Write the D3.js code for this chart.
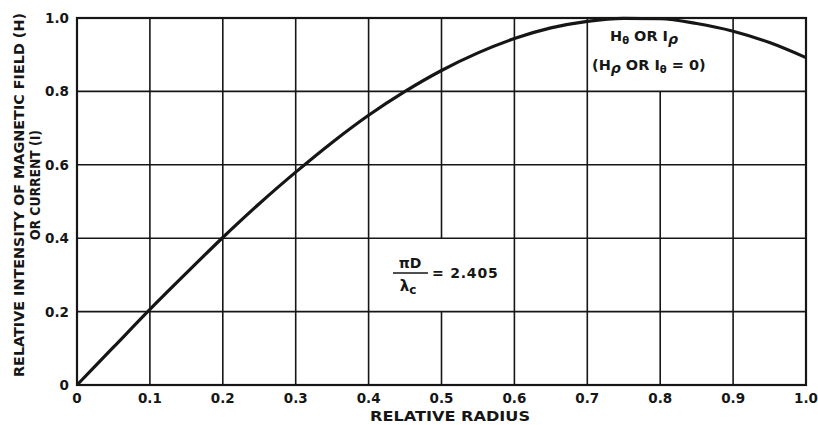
<!DOCTYPE html>
<html><head><meta charset="utf-8">
<script src="https://cdn.jsdelivr.net/npm/d3@7"></script>
<style>
html,body{margin:0;padding:0;background:#fff;}
svg{display:block;}
text{font-family:"DejaVu Sans",Verdana,sans-serif;font-weight:bold;fill:#161616;}
</style></head>
<body>
<svg id="c" width="818" height="425"></svg>
<script>
// Data
const radius = [0, 0.05, 0.1, 0.15, 0.2, 0.25, 0.3, 0.35, 0.4, 0.45, 0.5, 0.55, 0.6, 0.65, 0.7, 0.75, 0.8, 0.85, 0.9, 0.95, 1.0];
const intensity = [0, 0.103, 0.206, 0.305, 0.402, 0.494, 0.58, 0.661, 0.735, 0.8, 0.857, 0.905, 0.944, 0.973, 0.991, 0.999, 0.998, 0.985, 0.964, 0.933, 0.892];
const xTicks = [0, 0.1, 0.2, 0.3, 0.4, 0.5, 0.6, 0.7, 0.8, 0.9, 1.0];
const xTickLabels = ["0", "0.1", "0.2", "0.3", "0.4", "0.5", "0.6", "0.7", "0.8", "0.9", "1.0"];
const yTicks = [0, 0.2, 0.4, 0.6, 0.8, 1.0];
const yTickLabels = ["0", "0.2", "0.4", "0.6", "0.8", "1.0"];
// grid segments left out where annotations sit: [x, yFrom, yTo]
const gridGaps = [[0.8, 0.8, 1.0], [0.5, 0.2, 0.4]];
const xTitle = "RELATIVE RADIUS";
const yTitle1 = "RELATIVE INTENSITY OF MAGNETIC FIELD (H)";
const yTitle2 = "OR CURRENT (I)";

const svg = d3.select("#c");
const x = d3.scaleLinear().domain([0, 1]).range([77, 806]);
const y = d3.scaleLinear().domain([0, 1]).range([385, 18]);
const ink = "#161616";

// horizontal grid
svg.append("g").selectAll("line").data(yTicks).join("line")
  .attr("x1", x(0)).attr("x2", x(1))
  .attr("y1", d => y(d)).attr("y2", d => y(d))
  .attr("stroke", ink).attr("stroke-width", 1.6);

// vertical grid with gaps
const vSegs = [];
xTicks.forEach(t => {
  const g = gridGaps.filter(gp => Math.abs(gp[0] - t) < 1e-9);
  if (g.length) {
    g.forEach(gp => {
      if (gp[1] > 0) vSegs.push([t, 0, gp[1]]);
      if (gp[2] < 1) vSegs.push([t, gp[2], 1]);
    });
  } else vSegs.push([t, 0, 1]);
});
svg.append("g").selectAll("line").data(vSegs).join("line")
  .attr("x1", d => x(d[0])).attr("x2", d => x(d[0]))
  .attr("y1", d => y(d[1])).attr("y2", d => y(d[2]))
  .attr("stroke", ink).attr("stroke-width", 1.6);

// frame
svg.append("rect").attr("x", x(0)).attr("y", y(1))
  .attr("width", x(1) - x(0)).attr("height", y(0) - y(1))
  .attr("fill", "none").attr("stroke", ink).attr("stroke-width", 2.2);

// curve
const pts = radius.map((r, i) => [r, intensity[i]]);
svg.append("path").datum(pts)
  .attr("d", d3.line().x(d => x(d[0])).y(d => y(d[1])).curve(d3.curveMonotoneX))
  .attr("fill", "none").attr("stroke", ink).attr("stroke-width", 3.2)
  .attr("stroke-linejoin", "round");

// tick labels
svg.append("g").selectAll("text").data(xTicks).join("text")
  .attr("x", d => x(d)).attr("y", 403).attr("text-anchor", "middle")
  .attr("font-size", 13.5).text((d, i) => xTickLabels[i]);
svg.append("g").selectAll("text").data(yTicks).join("text")
  .attr("x", 69).attr("y", d => y(d) + 5).attr("text-anchor", "end")
  .attr("font-size", 13.5).text((d, i) => yTickLabels[i]);

// axis titles
svg.append("text").attr("x", 370).attr("y", 421)
  .attr("font-size", 13.5).attr("textLength", 160).attr("lengthAdjust", "spacingAndGlyphs").text(xTitle);
svg.append("text").attr("transform", "translate(24,377) rotate(-90)")
  .attr("font-size", 14).attr("textLength", 364).attr("lengthAdjust", "spacingAndGlyphs").text(yTitle1);
svg.append("text").attr("transform", "translate(40,240) rotate(-90)")
  .attr("font-size", 14).attr("textLength", 110).attr("lengthAdjust", "spacingAndGlyphs").text(yTitle2);

// annotation: H_theta OR I_rho
const a1 = svg.append("text").attr("x", 610).attr("y", 41).attr("font-size", 14.5);
a1.append("tspan").text("H");
a1.append("tspan").attr("dy", 3).attr("font-size", 10).text("θ");
a1.append("tspan").attr("dy", -3).text(" OR I");
a1.append("tspan").attr("dy", 3).attr("font-size", 14).attr("font-style", "italic").text("ρ");
const a2 = svg.append("text").attr("x", 592).attr("y", 70).attr("font-size", 14.5);
a2.append("tspan").text("(H");
a2.append("tspan").attr("dy", 3).attr("font-size", 14).attr("font-style", "italic").text("ρ");
a2.append("tspan").attr("dy", -3).text(" OR I");
a2.append("tspan").attr("dy", 3).attr("font-size", 10).text("θ");
a2.append("tspan").attr("dy", -3).text(" = 0)");

// annotation: pi D / lambda_c = 2.405
svg.append("text").attr("x", 410).attr("y", 268).attr("text-anchor", "middle").attr("font-size", 14).text("πD");
svg.append("line").attr("x1", 393).attr("x2", 428).attr("y1", 273).attr("y2", 273).attr("stroke", ink).attr("stroke-width", 1.6);
const l = svg.append("text").attr("x", 408).attr("y", 291).attr("text-anchor", "middle").attr("font-size", 15);
l.append("tspan").text("λ");
l.append("tspan").attr("dy", 3).attr("font-size", 12).text("c");
svg.append("text").attr("x", 432).attr("y", 278).attr("font-size", 14).attr("letter-spacing", 0.8).text("= 2.405");
</script>
</body></html>
